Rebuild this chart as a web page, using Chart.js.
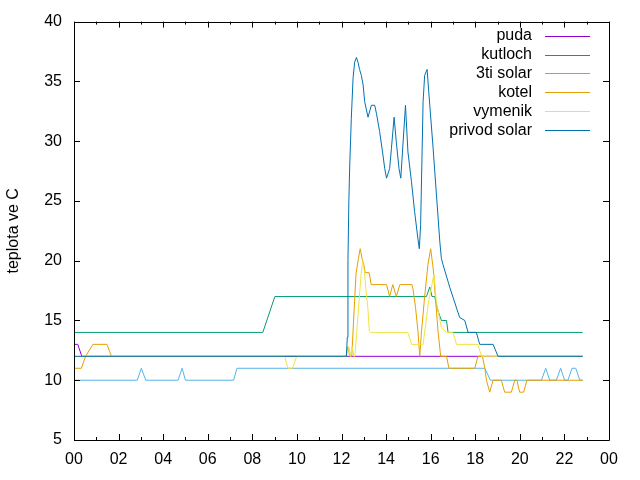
<!DOCTYPE html>
<html>
<head>
<meta charset="utf-8">
<script src="https://cdn.jsdelivr.net/npm/chart.js@4/dist/chart.umd.min.js"></script>
<style>
  html, body { margin: 0; padding: 0; background: #fff; }
  #wrap { width: 640px; height: 480px; }
</style>
</head>
<body>
<div id="wrap"><canvas id="chart" width="640" height="480"></canvas></div>
<script>
        // [hour, teplota] pairs
        const puda = [[0,13],[0.17,13],[0.35,12],[22.82,12]];
        const kutloch = [[0,14],[8.47,14],[9.01,17],[15.81,17],[15.96,17.8],[16.06,17],[16.18,17],[16.33,15.8],[16.48,15],[16.71,15],[16.78,14],[22.82,14]];
        const solar3 = [[0,10],[2.84,10],[3.02,11],[3.22,10],[4.67,10],[4.85,11],[5.0,10],[7.16,10],[7.31,11],[18.43,11],[18.68,10],[20.97,10],[21.16,11],[21.34,10],[21.64,10],[21.83,11],[22.01,10],[22.16,10],[22.34,11],[22.51,11],[22.69,10],[22.82,10]];
        const kotel = [[0,11],[0.33,11],[0.52,12],[0.85,13],[1.48,13],[1.68,12],[12.2,12],[12.29,12.8],[12.37,12],[12.46,12],[12.65,18.9],[12.76,20.2],[12.84,21],[12.92,20.2],[13.0,19.7],[13.06,19],[13.24,19],[13.33,18],[14.02,18],[14.16,17],[14.3,18],[14.46,17],[14.62,18],[15.16,18],[15.21,17.6],[15.32,16.1],[15.43,14.1],[15.51,12],[15.59,14.1],[15.73,17],[15.88,19.7],[16.0,21],[16.11,19.4],[16.21,17],[16.33,14.1],[16.45,12],[16.71,12],[16.82,11],[17.98,11],[18.12,12],[18.32,12],[18.43,11],[18.5,10],[18.65,9],[18.8,10],[19.17,10],[19.32,9],[19.62,9],[19.77,10],[19.87,10],[19.99,9],[20.17,9],[20.32,10],[22.82,10]];
        const vymenik = [[0,12],[9.45,12],[9.6,11],[9.8,11],[9.99,12],[12.22,12],[12.33,12.8],[12.4,12],[12.48,12.8],[12.56,12],[12.6,12],[12.88,18.9],[12.95,20],[13.03,19],[13.1,17.5],[13.18,16.1],[13.25,14.1],[13.31,14],[14.98,14],[15.14,13],[15.66,13],[15.9,16.5],[16.15,18.9],[16.26,16.5],[16.48,14.4],[16.71,14],[17.0,14],[17.16,13],[18.12,13],[18.28,12],[22.82,12]];
        const privod = [[0,12],[12.22,12],[12.26,13.6],[12.29,20],[12.33,25],[12.37,28],[12.44,31.9],[12.52,35.3],[12.59,36.6],[12.67,37],[12.74,36.6],[12.81,36],[12.89,35.5],[12.97,34.7],[13.04,33.3],[13.19,32],[13.34,33],[13.49,33],[13.57,32.3],[13.71,30.8],[13.84,29.1],[13.94,27.7],[14.02,26.9],[14.16,27.7],[14.24,29.4],[14.36,32],[14.46,29.9],[14.58,27.7],[14.66,26.9],[14.87,33],[14.98,29.1],[15.14,26.6],[15.28,24.1],[15.43,21.8],[15.49,21],[15.55,23],[15.66,33.3],[15.73,35.5],[15.84,36],[15.96,33],[16.11,29.4],[16.26,25.5],[16.41,21.6],[16.48,20.2],[16.55,19.7],[16.86,17.75],[17.3,15.25],[17.53,15],[17.68,14],[18.05,14],[18.2,13],[18.8,13],[19.02,12],[22.82,12]];

        const seriesNames = ['puda', 'kutloch', '3ti solar', 'kotel', 'vymenik', 'privod solar'];
        const seriesData = [puda, kutloch, solar3, kotel, vymenik, privod];
        const seriesColors = ['#9400d3', '#009e73', '#56b4e9', '#e69f00', '#f0e442', '#0072b2'];

        const yTicks = [5, 10, 15, 20, 25, 30, 35, 40];
        const yTitle = 'teplota ve C';

        const FONT = 'Liberation Sans, Arial, sans-serif';
        Chart.defaults.font.family = FONT;
        Chart.defaults.font.size = 16;
        Chart.defaults.color = '#000';

        // gnuplot style box with inward tics, plus the key at top right
        const gnuFrame = {
            id: 'gnuFrame',
            afterDraw(chart) {
                const ctx = chart.ctx;
                const a = chart.chartArea;
                const xs = chart.scales.x;
                const ys = chart.scales.y;
                ctx.save();
                ctx.strokeStyle = '#000';
                ctx.lineWidth = 1;
                ctx.beginPath();
                ctx.rect(Math.round(a.left) + 0.5, Math.round(a.top) + 0.5,
                         Math.round(a.right - a.left), Math.round(a.bottom - a.top));
                for (let h = 0; h <= 24; h++) {
                    const px = Math.round(xs.getPixelForValue(h)) + 0.5;
                    const len = h % 2 === 0 ? 6 : 3;
                    ctx.moveTo(px, a.bottom); ctx.lineTo(px, a.bottom - len);
                    ctx.moveTo(px, a.top); ctx.lineTo(px, a.top + len);
                }
                yTicks.forEach(v => {
                    const py = Math.round(ys.getPixelForValue(v)) + 0.5;
                    ctx.moveTo(a.left, py); ctx.lineTo(a.left + 6, py);
                    ctx.moveTo(a.right, py); ctx.lineTo(a.right - 6, py);
                });
                ctx.stroke();

                // key
                ctx.font = '16px ' + FONT;
                ctx.textAlign = 'right';
                ctx.textBaseline = 'middle';
                chart.data.datasets.forEach((ds, i) => {
                    const y = a.top + 14 + i * 18.9;
                    ctx.fillStyle = '#000';
                    ctx.fillText(ds.label, a.right - 77, y);
                    ctx.strokeStyle = ds.borderColor;
                    ctx.beginPath();
                    ctx.moveTo(a.right - 64, Math.round(y) + 0.5);
                    ctx.lineTo(a.right - 19, Math.round(y) + 0.5);
                    ctx.stroke();
                });
                ctx.restore();
            }
        };

        const datasets = seriesNames.map((name, i) => ({
            label: name,
            data: seriesData[i].map(p => ({ x: p[0], y: p[1] })),
            borderColor: seriesColors[i],
            backgroundColor: seriesColors[i],
            borderWidth: 1,
            pointRadius: 0,
            tension: 0,
            fill: false,
            order: seriesNames.length - i   // later series on top, like gnuplot
        }));

        new Chart(document.getElementById('chart'), {
            type: 'line',
            data: { datasets },
            options: {
                responsive: false,
                animation: false,
                layout: { padding: { left: 0, right: 31, top: 19, bottom: 0 } },
                plugins: {
                    legend: { display: false },
                    tooltip: { enabled: false }
                },
                scales: {
                    x: {
                        type: 'linear',
                        min: 0,
                        max: 24,
                        grid: { display: false, drawTicks: false },
                        border: { display: false },
                        ticks: {
                            stepSize: 2,
                            padding: 10,
                            autoSkip: false,
                            maxRotation: 0,
                            callback: v => String(v % 24).padStart(2, '0')
                        },
                        afterFit: s => { s.height = 40; }
                    },
                    y: {
                        min: 5,
                        max: 40,
                        grid: { display: false, drawTicks: false },
                        border: { display: false },
                        ticks: { stepSize: 5, padding: 12 },
                        title: {
                            display: true,
                            text: yTitle,
                            padding: { top: 4, bottom: 0 },
                            font: { size: 16 }
                        },
                        afterFit: s => { s.width = 74; }
                    }
                }
            },
            plugins: [gnuFrame]
        });
</script>
</body>
</html>
